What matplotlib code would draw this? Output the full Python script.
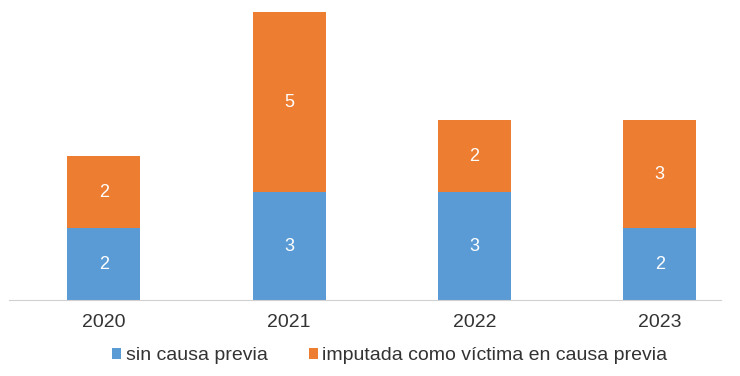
import matplotlib
matplotlib.use("Agg")
import matplotlib.pyplot as plt
import numpy as np

plt.rcParams['font.family'] = ['Liberation Sans', 'DejaVu Sans']

# data
years = ['2020', '2021', '2022', '2023']
sin_causa = [2, 3, 3, 2]
imputada = [2, 5, 2, 3]
series_names = ['sin causa previa', 'imputada como víctima en causa previa']

blue = '#5B9BD5'
orange = '#ED7D31'

fig = plt.figure(figsize=(7.4, 3.76), dpi=100)
ax = fig.add_axes([0.012, 0.202, 0.962, 0.766])

x = np.arange(len(years))
w = 0.395
b1 = ax.bar(x, sin_causa, w, color=blue, label=series_names[0])
b2 = ax.bar(x, imputada, w, bottom=sin_causa, color=orange, label=series_names[1])

for bars in (b1, b2):
    ax.bar_label(bars, label_type='center', color='white', fontsize=13)

ax.set_xlim(-0.513, 3.33)
ax.set_ylim(0, 8)
ax.set_xticks(x)
ax.set_xticklabels(years, fontsize=14, color='#333333')
ax.tick_params(axis='x', length=0, pad=10)
ax.set_yticks([])
for s in ['top', 'right', 'left']:
    ax.spines[s].set_visible(False)
ax.spines['bottom'].set_color('#d0d0d0')

ax.legend(loc='center', bbox_to_anchor=(390 / 740, 20 / 376),
          bbox_transform=fig.transFigure, ncol=2, frameon=False,
          fontsize=14, handlelength=0.45, handleheight=0.45, handletextpad=0.25,
          columnspacing=2.1, labelcolor='#333333')

fig.savefig('out.png', dpi=100)
